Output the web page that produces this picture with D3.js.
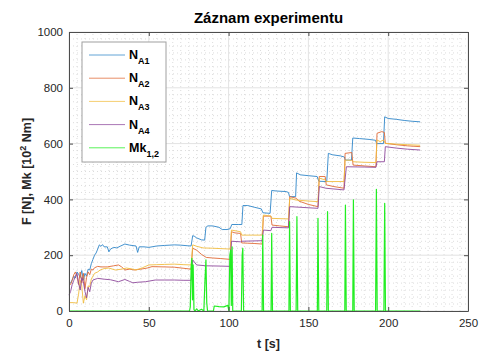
<!DOCTYPE html>
<html>
<head>
<meta charset="utf-8">
<script src="https://cdn.jsdelivr.net/npm/d3@7"></script>
<style>
  body { margin: 0; background: #fff; }
  svg { display: block; font-family: "Liberation Sans", Arial, sans-serif; }
</style>
</head>
<body>
<svg id="chart"></svg>
<script>
const WIDTH = 484;
const HEIGHT = 354;
const MARGIN = {top: 32, right: 16, bottom: 43, left: 69};

const X_TICKS = [0, 50, 100, 150, 200, 250];
const Y_TICKS = [0, 200, 400, 600, 800, 1000];

// [t, value]
const na1 = [[0,105],[1,100],[2,112],[3,125],[4,118],[5,140],[6,132],[7,120],[8,145],[9,110],[10,135],[11,125],[12,150],[13,147],[14,170],[15,185],[16,200],[17,208],[18,222],[19,237],[20,232],[21,238],[22,230],[24,230],[25,212],[26,222],[28,228],[30,226],[32,232],[35,240],[38,236],[42,233],[43,210],[44,230],[47,230],[50,228],[55,233],[60,235],[66,237],[70,236],[74,234],[76.5,233],[77.5,270],[78.5,268],[80,262],[83,255],[85,254],[85.8,300],[87,305],[90,305],[94,300],[96,292],[99,292],[101,295],[102,310],[106,310],[108.3,310],[109,378],[112,378],[116,372],[120.5,366],[121.5,352],[126,350],[127,432],[130,430],[136,428],[137.5,425],[138.2,410],[142,410],[142.6,495],[145,488],[150,485],[155.5,482],[156.5,465],[161.5,464],[162.5,565],[165,560],[170,556],[172.5,552],[173.2,541],[177,541],[177.8,620],[182,618],[188,615],[192,612],[192.8,600],[197,600],[197.8,696],[200,690],[205,687],[210,683],[215,680],[220,678]];

const na2 = [[0,100],[1,95],[2,110],[3,130],[4,140],[5,125],[6,95],[7,140],[8,100],[9,135],[10,80],[11,120],[12,140],[13,130],[14,150],[15,147],[16,155],[18,160],[20,158],[24,158],[28,162],[31,165],[33,158],[35,147],[38,150],[41,147],[45,150],[49,154],[52,159],[60,158],[66,157],[72,153],[76.5,150],[77.5,225],[80,218],[83,203],[86,192],[90,190],[95,188],[101,185],[101.8,284],[104,280],[107.5,278],[108.2,244],[112,243],[116,242],[121,240],[121.8,340],[126.5,340],[127.2,308],[132,305],[137.5,302],[138.3,410],[142.5,404],[144,394],[150,382],[156,374],[156.8,482],[160.5,482],[161.2,452],[166,446],[172.3,440],[173,565],[177.2,568],[178,523],[185,520],[192.3,517],[193,637],[196,643],[197.6,640],[198.2,601],[205,596],[212,592],[220,589]];

const na3 = [[0,30],[3,30],[5,28],[6,60],[7,110],[8,90],[9,28],[10,55],[11,40],[12,90],[13,87],[14,115],[16,135],[18,140],[19.5,147],[22,152],[25,154],[29,147],[33,150],[36,154],[40,150],[42,147],[46,155],[50,165],[55,166],[60,167],[66,168],[72,166],[76.5,165],[77.5,237],[80,232],[84,226],[90,225],[101,222],[101.8,290],[107.5,284],[108.2,272],[115,272],[121,272],[121.8,344],[126.5,340],[127.2,332],[137.5,330],[138.3,404],[142,398],[150,394],[156,392],[156.8,476],[160.5,470],[161.2,464],[172.3,464],[173,541],[177.2,540],[178,535],[185,533],[192.3,532],[193,613],[195,607],[197,613],[198.2,601],[205,598],[212,596],[220,594]];

const na4 = [[0,57],[1,70],[2,95],[3,110],[4,125],[5,135],[6,100],[7,75],[8,120],[9,105],[10,70],[11,47],[12,85],[13,69],[14,100],[15,111],[17,115],[18,117],[22,114],[26,112],[31,105],[35,113],[38,106],[40,101],[43,103],[48,105],[54,111],[60,111],[66,111],[72,110],[76.5,110],[77.5,183],[80,165],[86,162],[95,161],[101,160],[101.8,250],[107.5,248],[108.2,250],[121,252],[121.8,290],[126.5,288],[127.2,300],[137.5,298],[138.3,374],[150,370],[156,368],[156.8,446],[161,440],[172.3,434],[173.8,517],[185,516],[192.3,515],[193,535],[197.6,535],[198.2,589],[205,584],[212,580],[220,577]];

const mk12 = [[0,0],[75.5,0],[76,15],[76.5,150],[77,189],[77.4,40],[77.8,165],[78.3,5],[79,0],[80,8],[81,0],[83,6],[84.5,0],[85.2,110],[85.8,183],[86.3,30],[86.8,0],[90.5,0],[91,18],[94,16],[97,15],[99.5,20],[100.2,0],[100.8,200],[101.3,218],[101.7,20],[102.2,230],[102.6,0],[108,0],[108.5,200],[108.9,225],[109.4,0],[121,0],[121.4,272],[121.9,0],[126.6,0],[127,278],[127.5,0],[137.8,0],[138.2,320],[138.7,0],[142.3,0],[142.8,338],[143.3,0],[155.6,0],[156,332],[156.5,0],[161.5,0],[162,356],[162.5,0],[172.8,0],[173.2,380],[173.7,0],[177.8,0],[178.2,398],[178.7,0],[192.1,0],[192.6,436],[193.1,0],[197.3,0],[197.8,386],[198.3,0],[220,0]];

const SERIES = [
    {name: "N", sub: "A1", color: "#2f86c8", data: na1},
    {name: "N", sub: "A2", color: "#e06a35", data: na2},
    {name: "N", sub: "A3", color: "#f0bc40", data: na3},
    {name: "N", sub: "A4", color: "#8e4a9c", data: na4},
    {name: "Mk", sub: "1,2", color: "#22ee22", data: mk12}
];

const svg = d3.select("#chart").attr("width", WIDTH).attr("height", HEIGHT);
const innerW = WIDTH - MARGIN.left - MARGIN.right;
const innerH = HEIGHT - MARGIN.top - MARGIN.bottom;

const x = d3.scaleLinear().domain([0, 250]).range([MARGIN.left, MARGIN.left + innerW]);
const y = d3.scaleLinear().domain([0, 1000]).range([MARGIN.top + innerH, MARGIN.top]);

// minor grid (dotted)
const minorX = d3.range(0, 251, 5).filter(v => v % 50 !== 0);
const minorY = d3.range(0, 1001, 25).filter(v => v % 200 !== 0);
const grid = svg.append("g");
grid.selectAll("line.mx").data(minorX).enter().append("line")
    .attr("x1", d => x(d)).attr("x2", d => x(d))
    .attr("y1", y(0)).attr("y2", y(1000))
    .attr("stroke", "#dcdcdc").attr("stroke-dasharray", "1,3");
grid.selectAll("line.my").data(minorY).enter().append("line")
    .attr("x1", x(0)).attr("x2", x(250))
    .attr("y1", d => y(d)).attr("y2", d => y(d))
    .attr("stroke", "#dcdcdc").attr("stroke-dasharray", "1,3");
// major grid
grid.selectAll("line.gx").data(X_TICKS).enter().append("line")
    .attr("x1", d => x(d)).attr("x2", d => x(d))
    .attr("y1", y(0)).attr("y2", y(1000))
    .attr("stroke", "#e3e3e3");
grid.selectAll("line.gy").data(Y_TICKS).enter().append("line")
    .attr("x1", x(0)).attr("x2", x(250))
    .attr("y1", d => y(d)).attr("y2", d => y(d))
    .attr("stroke", "#e3e3e3");

// series
const line = d3.line().x(d => x(d[0])).y(d => y(d[1]));
const plot = svg.append("g");
SERIES.forEach(s => {
    plot.append("path")
        .datum(s.data)
        .attr("fill", "none")
        .attr("stroke", s.color)
        .attr("stroke-width", s.name === "Mk" ? 1.2 : 0.9)
        .attr("stroke-linejoin", "round")
        .attr("d", line);
});

// axes with inward ticks, box
const axisColor = "#4d4d4d";
const fmt = d3.format("d");
const gx = svg.append("g").attr("transform", `translate(0,${y(0)})`)
    .call(d3.axisBottom(x).tickValues(X_TICKS).tickFormat(fmt).tickSizeInner(-4).tickSizeOuter(0).tickPadding(8));
const gxTop = svg.append("g").attr("transform", `translate(0,${y(1000)})`)
    .call(d3.axisTop(x).tickValues(X_TICKS).tickFormat("").tickSizeInner(-4).tickSizeOuter(0));
const gy = svg.append("g").attr("transform", `translate(${x(0)},0)`)
    .call(d3.axisLeft(y).tickValues(Y_TICKS).tickFormat(fmt).tickSizeInner(-4).tickSizeOuter(0).tickPadding(6));
const gyRight = svg.append("g").attr("transform", `translate(${x(250)},0)`)
    .call(d3.axisRight(y).tickValues(Y_TICKS).tickFormat("").tickSizeInner(-4).tickSizeOuter(0));
[gx, gxTop, gy, gyRight].forEach(g => {
    g.select(".domain").attr("stroke", axisColor);
    g.selectAll(".tick line").attr("stroke", axisColor);
    g.selectAll(".tick text").attr("fill", "#262626").attr("font-size", 11.5)
        .attr("font-family", "Liberation Sans, Arial, sans-serif");
});

// legend
const lg = svg.append("g").attr("transform", "translate(82,42)");
lg.append("rect").attr("width", 84).attr("height", 120)
    .attr("fill", "#fff").attr("stroke", "#a0a0a0");
SERIES.forEach((s, i) => {
    const yy = 13 + i * 23.2;
    lg.append("line").attr("x1", 7).attr("x2", 43).attr("y1", yy).attr("y2", yy)
        .attr("stroke", s.color).attr("stroke-width", 1).attr("stroke-opacity", 0.75);
    const t = lg.append("text").attr("x", 47).attr("y", yy + 4)
        .attr("font-weight", "bold").attr("font-size", 12.5).attr("fill", "#000");
    t.append("tspan").text(s.name);
    t.append("tspan").attr("dy", 5).attr("font-size", 9).text(s.sub);
});

// title and labels
svg.append("text").attr("x", x(125)).attr("y", 23).attr("text-anchor", "middle")
    .attr("font-weight", "bold").attr("font-size", 15).attr("fill", "#000")
    .text("Záznam experimentu");
svg.append("text").attr("x", x(125)).attr("y", 348).attr("text-anchor", "middle")
    .attr("font-weight", "bold").attr("font-size", 12.5).attr("fill", "#262626")
    .text("t [s]");
const yl = svg.append("text").attr("transform", `translate(31,${y(500)}) rotate(-90)`)
    .attr("text-anchor", "middle").attr("font-weight", "bold").attr("font-size", 12.5)
    .attr("fill", "#262626");
yl.append("tspan").text("F [N], Mk [10");
yl.append("tspan").attr("dy", -5).attr("font-size", 9).text("2");
yl.append("tspan").attr("dy", 5).text(" Nm]");
</script>
</body>
</html>
